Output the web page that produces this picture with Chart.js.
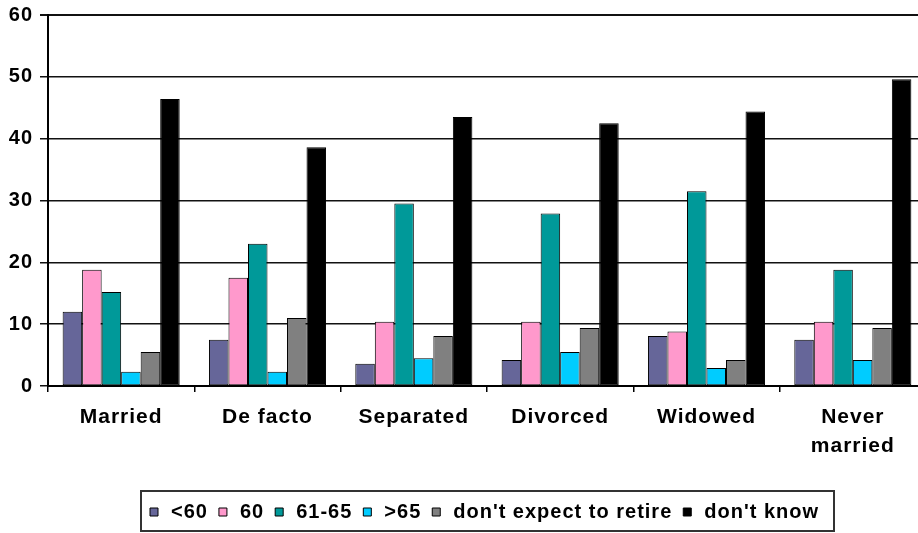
<!DOCTYPE html>
<html>
<head>
<meta charset="utf-8">
<script src="https://cdn.jsdelivr.net/npm/chart.js@4/dist/chart.umd.min.js"></script>
<style>
  html, body { margin: 0; padding: 0; background: #fff; overflow: hidden; width: 918px; height: 533px; }
  canvas { display: block; }
</style>
</head>
<body>
<canvas id="c" width="930" height="533"></canvas>
<script>
const categories = ['Married', 'De facto', 'Separated', 'Divorced', 'Widowed', ['Never', 'married']];
const seriesNames = ['<60', '60', '61-65', '>65', "don't expect to retire", "don't know"];
const under60   = [12.0, 7.5, 3.6, 4.2, 8.1, 7.5];
const age60     = [18.8, 17.5, 10.4, 10.4, 8.8, 10.4];
const age61to65 = [15.2, 23.0, 29.5, 27.9, 31.5, 18.8];
const over65    = [2.3, 2.3, 4.5, 5.5, 2.9, 4.2];
const noRetire  = [5.5, 11.0, 8.1, 9.4, 4.2, 9.4];
const dontKnow  = [46.4, 38.6, 43.5, 42.5, 44.4, 49.6];
const yTicks    = [0, 10, 20, 30, 40, 50, 60];

const colors = ['#666699', '#FF99CC', '#009999', '#00CCFF', '#808080', '#000000'];
const values = [under60, age60, age61to65, over65, noRetire, dontKnow];

const FONT = "'Liberation Sans', Arial, sans-serif";

const spacingPlugin = {
  id: 'spacing',
  beforeUpdate(chart) { chart.ctx.letterSpacing = '1px'; },
  beforeDraw(chart) { chart.ctx.letterSpacing = '1px'; }
};

// place the legend row where the reference has it
const legendPlace = {
  id: 'legendPlace',
  afterLayout(chart) {
    const lg = chart.legend;
    const h = lg.bottom - lg.top;
    lg.left -= 4;
    lg.right -= 4;
    lg.top = 494;
    lg.bottom = 494 + h;
  }
};

const legendBorder = {
  id: 'legendBorder',
  afterDraw(chart) {
    const lg = chart.legend;
    const hb = lg.legendHitBoxes;
    if (!hb || !hb.length) return;
    const first = hb[0], last = hb[hb.length - 1];
    const left = first.left - 6;
    const right = last.left + last.width + 15;
    const top = 491;
    const bottom = 531;
    const ctx = chart.ctx;
    ctx.save();
    ctx.strokeStyle = '#333';
    ctx.lineWidth = 2;
    ctx.strokeRect(left, top, right - left, bottom - top);
    ctx.restore();
  }
};

new Chart(document.getElementById('c'), {
  type: 'bar',
  data: {
    labels: categories,
    datasets: seriesNames.map((name, i) => ({
      label: name,
      data: values[i],
      backgroundColor: colors[i],
      borderColor: '#000',
      borderWidth: 1,
      borderSkipped: false,
      categoryPercentage: 0.8,
      barPercentage: 1.0
    }))
  },
  options: {
    responsive: false,
    animation: false,
    devicePixelRatio: 1,
    layout: { padding: { top: 15, right: 4, bottom: 3, left: 0 } },
    plugins: {
      tooltip: { enabled: false },
      legend: {
        position: 'bottom',
        fullSize: false,
        labels: {
          color: '#000',
          font: { family: FONT, size: 20, weight: 'bold' },
          usePointStyle: true,
          pointStyle: 'rect',
          boxWidth: 14,
          boxHeight: 8,
          padding: 8
        }
      }
    },
    scales: {
      x: {
        grid: {
          drawOnChartArea: false,
          drawTicks: true,
          tickLength: 6,
          color: '#000',
          lineWidth: 1.5,
          offset: true
        },
        border: { display: true, color: '#000', width: 2 },
        ticks: {
          color: '#000',
          font: { family: FONT, size: 21, weight: 'bold', lineHeight: 1.38 },
          padding: 11,
          maxRotation: 0,
          autoSkip: false
        },
        afterFit(scale) { scale.height = 106; }
      },
      y: {
        min: 0,
        max: 60,
        afterBuildTicks(scale) { scale.ticks = yTicks.map(v => ({ value: v })); },
        grid: {
          color: '#111',
          lineWidth: ctx => (ctx.tick && ctx.tick.value === 60 ? 2 : 1.5),
          tickLength: 8,
          drawTicks: true
        },
        border: { display: true, color: '#000', width: 2 },
        ticks: {
          color: '#000',
          font: { family: FONT, size: 20, weight: 'bold' },
          padding: 7
        },
        afterFit(scale) {
          scale.width = 48;
          scale.paddingTop = 0;
          scale.paddingBottom = 0;
        }
      }
    }
  },
  plugins: [spacingPlugin, legendPlace, legendBorder]
});
</script>
</body>
</html>
